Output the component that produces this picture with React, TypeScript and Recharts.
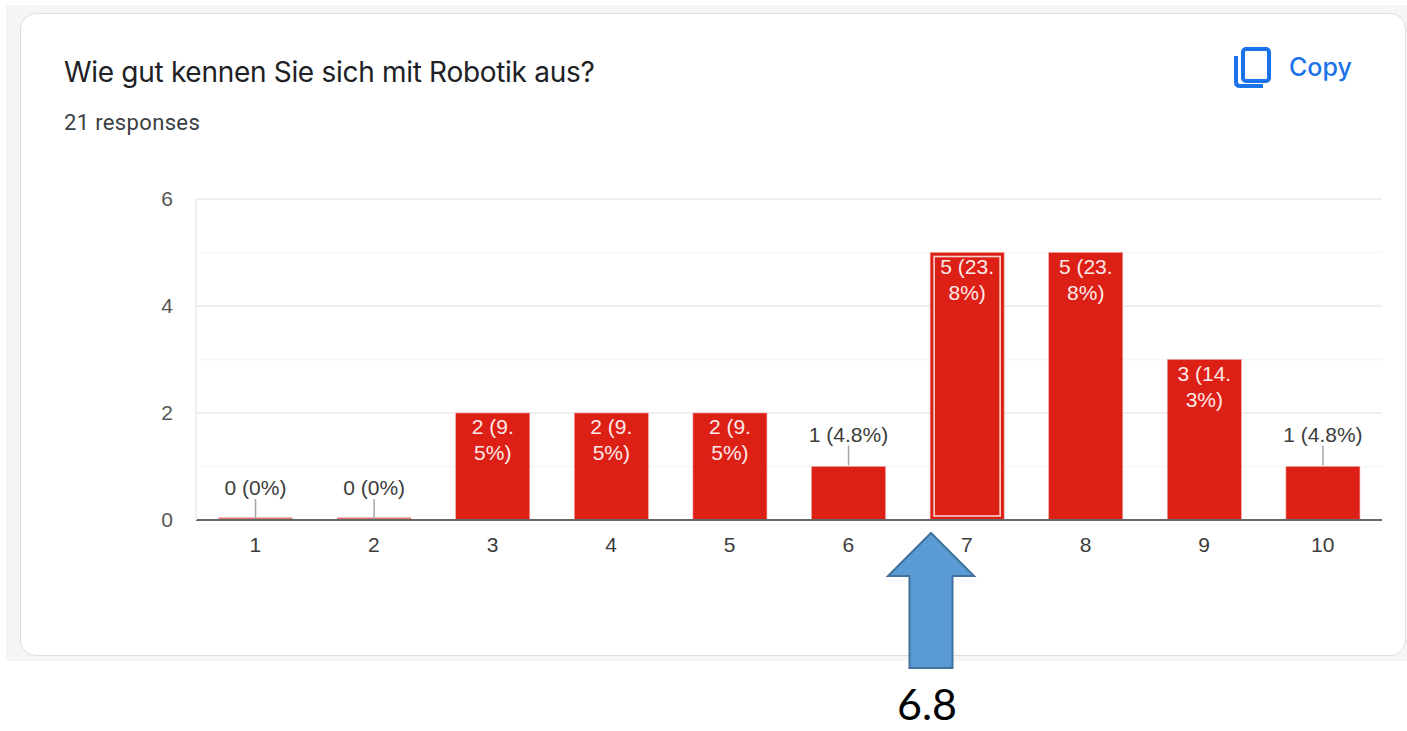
import { Bar, BarChart, CartesianGrid, LabelList, XAxis, YAxis } from 'recharts'

const categories = ['1', '2', '3', '4', '5', '6', '7', '8', '9', '10']
const counts = [0, 0, 2, 2, 2, 1, 5, 5, 3, 1]
const percents = ['0%', '0%', '9.5%', '9.5%', '9.5%', '4.8%', '23.8%', '23.8%', '14.3%', '4.8%']
const yTicks = [0, 2, 4, 6]
const minorTicks = [1, 3, 5]
const highlighted = '7'
const meanLabel = '6.8'

const data = categories.map((name, i) => ({ name, count: counts[i], percent: percents[i] }))

const RED = '#dd2016'
const LABEL_FONT = '"Liberation Sans", Arial, sans-serif'

function BarShape(props: any) {
  const { x, y, width, height, payload } = props
  if (height < 1) {
    return <rect x={x} y={y - 2.5} width={width} height={2} fill="#d9534c" opacity={0.8} />
  }
  return (
    <g>
      <rect x={x} y={y} width={width} height={height} fill={RED} stroke="#f0a09a" strokeWidth={0.6} />
      {payload.name === highlighted && (
        <rect x={x + 4} y={y + 4} width={width - 8} height={height - 8} fill="none" stroke="#f7d3d0" strokeWidth={1.6} />
      )}
    </g>
  )
}

function BarLabel(props: any) {
  const { x, y, width, index } = props
  const cx = x + width / 2
  const text = `${counts[index]} (${percents[index]})`
  if (counts[index] < 2) {
    return (
      <g>
        <line x1={cx} x2={cx} y1={y - 1} y2={y - 21} stroke="#a6a6a6" strokeWidth={1.5} />
        <text x={cx} y={y - 25} textAnchor="middle" fontSize={21} fontFamily={LABEL_FONT} fill="#3c3c3c">
          {text}
        </text>
      </g>
    )
  }
  const cut = text.indexOf('.') + 1
  return (
    <text textAnchor="middle" fontSize={21} fontFamily={LABEL_FONT} fill="#fbe9e8">
      <tspan x={cx} y={y + 21}>{text.slice(0, cut)}</tspan>
      <tspan x={cx} y={y + 47}>{text.slice(cut)}</tspan>
    </text>
  )
}

export default function App() {
  return (
    <div style={{ position: 'absolute', left: 0, top: 0, width: 1407, height: 731, background: '#fff', overflow: 'hidden' }}>
      <div style={{ position: 'absolute', left: 6, top: 5, width: 1401, height: 656, background: '#f5f5f5' }} />
      <div style={{ position: 'absolute', left: 20, top: 13, width: 1384, height: 641, background: '#fff', border: '1px solid #dedede', borderRadius: 16 }} />
      <div style={{ position: 'absolute', left: 64, top: 55, fontFamily: 'Inter, sans-serif', fontSize: 28, color: '#202124', whiteSpace: 'nowrap', letterSpacing: -0.3 }}>
        Wie gut kennen Sie sich mit Robotik aus?
      </div>
      <div style={{ position: 'absolute', left: 64, top: 110, fontFamily: 'Roboto, sans-serif', fontSize: 22, color: '#3c4043', whiteSpace: 'nowrap', letterSpacing: 0.35 }}>
        21 responses
      </div>
      <svg style={{ position: 'absolute', left: 1232, top: 45 }} width={42} height={44} viewBox="0 0 42 44" fill="none" stroke="#1a73e8" strokeWidth={4}>
        <rect x={11} y={4} width={26} height={32} rx={3} />
        <path d="M4 11 V37 Q4 41 8 41 H31" />
      </svg>
      <div style={{ position: 'absolute', left: 1289, top: 52, fontFamily: 'Inter, sans-serif', fontWeight: 500, fontSize: 25, color: '#1a73e8' }}>
        Copy
      </div>

      <div style={{ position: 'absolute', left: 0, top: 0 }}>
        <BarChart width={1407} height={731} data={data} barCategoryGap="19%" margin={{ top: 199, right: 25, bottom: 181, left: 136 }}>
          <CartesianGrid vertical={false} horizontalValues={minorTicks} stroke="#f6f6f6" strokeWidth={1.5} />
          <CartesianGrid vertical={false} horizontalValues={yTicks} stroke="#efefef" strokeWidth={2} />
          <XAxis
            dataKey="name"
            height={30}
            interval={0}
            tickLine={false}
            axisLine={{ stroke: '#666', strokeWidth: 2 }}
            tickMargin={11}
            tick={{ fill: '#3c3c3c', fontSize: 21, fontFamily: LABEL_FONT }}
          />
          <YAxis
            width={60}
            domain={[0, 6]}
            ticks={yTicks}
            tickLine={false}
            axisLine={{ stroke: '#efefef', strokeWidth: 2 }}
            tickMargin={17}
            tick={{ fill: '#555', fontSize: 21, fontFamily: LABEL_FONT }}
          />
          <Bar dataKey="count" fill={RED} shape={BarShape} isAnimationActive={false}>
            <LabelList dataKey="count" content={BarLabel} />
          </Bar>
        </BarChart>
      </div>

      <svg style={{ position: 'absolute', left: 880, top: 525 }} width={100} height={150}>
        <path d="M51 8 L94 51 L72.5 51 L72.5 143 L29.5 143 L29.5 51 L8 51 Z" fill="#5b9bd5" stroke="#41719c" strokeWidth={2} />
      </svg>
      <div style={{ position: 'absolute', left: 897, top: 678, fontFamily: 'Lato, sans-serif', fontSize: 43, lineHeight: '52px', color: '#000' }}>
        {meanLabel}
      </div>
    </div>
  )
}
